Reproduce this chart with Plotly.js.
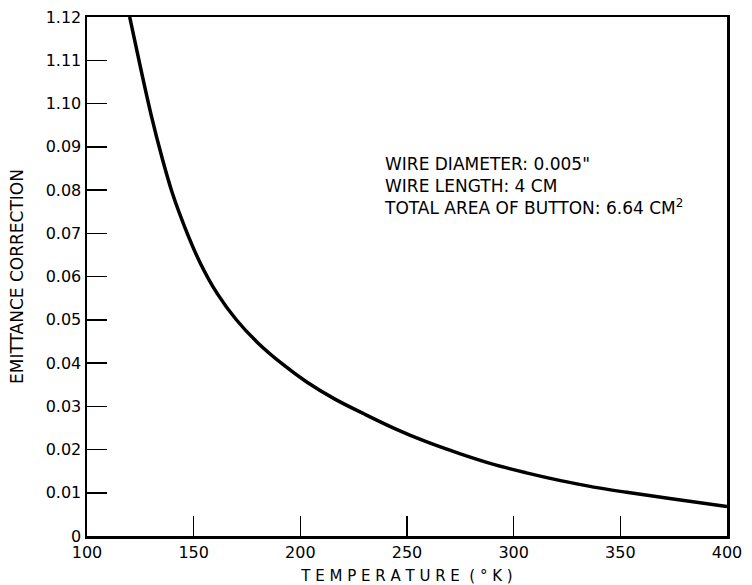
<!DOCTYPE html>
<html>
<head>
<meta charset="utf-8">
<script src="https://cdn.plot.ly/plotly-3.0.1.min.js"></script>
<style>html,body{margin:0;padding:0;background:#fff;}</style>
</head>
<body>
<div id="chart" style="width:752px;height:585px;"></div>
<script>
// Curve
const temperature = [120, 125, 130, 135, 140, 146, 153, 161, 170, 180, 192, 203, 216, 230, 244, 259, 275, 291, 306, 322, 337.5, 353, 374, 400];
const emittanceCorrection = [0.1200, 0.1085, 0.0975, 0.0878, 0.0793, 0.0712, 0.0632, 0.0561, 0.0500, 0.0447, 0.0396, 0.0356, 0.0317, 0.0282, 0.0249, 0.0218, 0.0190, 0.0165, 0.0146, 0.0128, 0.0113, 0.0101, 0.0086, 0.0068];

const xTickVals = [100, 150, 200, 250, 300, 350, 400];
const xTickText = ["100", "150", "200", "250", "300", "350", "400"];
const yTickVals = [0, 0.01, 0.02, 0.03, 0.04, 0.05, 0.06, 0.07, 0.08, 0.09, 0.10, 0.11, 0.12];
const yTickText = ["0", "0.01", "0.02", "0.03", "0.04", "0.05", "0.06", "0.07", "0.08", "0.09", "1.10", "1.11", "1.12"];

const noteLines = ["WIRE DIAMETER: 0.005\"", "WIRE LENGTH: 4 CM", "TOTAL AREA OF BUTTON: 6.64 CM<sup>2</sup>"];

const font = "DejaVu Sans, sans-serif";

const trace = {
  x: temperature,
  y: emittanceCorrection,
  type: "scatter",
  mode: "lines",
  line: {color: "#000", width: 3.5, shape: "spline", smoothing: 1},
  cliponaxis: true,
  hoverinfo: "skip"
};

const layout = {
  width: 752,
  height: 585,
  margin: {l: 87, r: 25, t: 17, b: 49},
  paper_bgcolor: "#fff",
  plot_bgcolor: "#fff",
  showlegend: false,
  font: {family: font, color: "#000", size: 16},
  xaxis: {
    range: [100, 400],
    tickvals: xTickVals,
    ticktext: xTickText,
    ticks: "inside",
    ticklen: 20,
    tickwidth: 1.5,
    tickcolor: "#000",
    showline: true,
    linewidth: 2.5,
    linecolor: "#000",
    mirror: true,
    showgrid: false,
    zeroline: false,
    tickfont: {family: font, size: 16, color: "#000"},
    title: {text: "T E M P E R A T U R E  ( ° K )", font: {family: font, size: 15, color: "#000"}, standoff: 12},
    automargin: false,
    fixedrange: true
  },
  yaxis: {
    range: [0, 0.12],
    tickvals: yTickVals,
    ticktext: yTickText,
    ticks: "inside",
    ticklen: 20,
    tickwidth: 1.5,
    tickcolor: "#000",
    showline: true,
    linewidth: 2.5,
    linecolor: "#000",
    mirror: true,
    showgrid: false,
    zeroline: false,
    tickfont: {family: font, size: 16, color: "#000"},
    title: {text: "EMITTANCE CORRECTION", font: {family: font, size: 17, color: "#000"}, standoff: 18},
    automargin: false,
    fixedrange: true
  },
  annotations: [{
    x: 238.5,
    y: 0.0888,
    xref: "x",
    yref: "y",
    xanchor: "left",
    yanchor: "top",
    align: "left",
    showarrow: false,
    text: noteLines.join("<br>"),
    font: {family: font, size: 17, color: "#000"}
  }]
};

Plotly.newPlot("chart", [trace], layout, {displayModeBar: false, staticPlot: true});
</script>
</body>
</html>
